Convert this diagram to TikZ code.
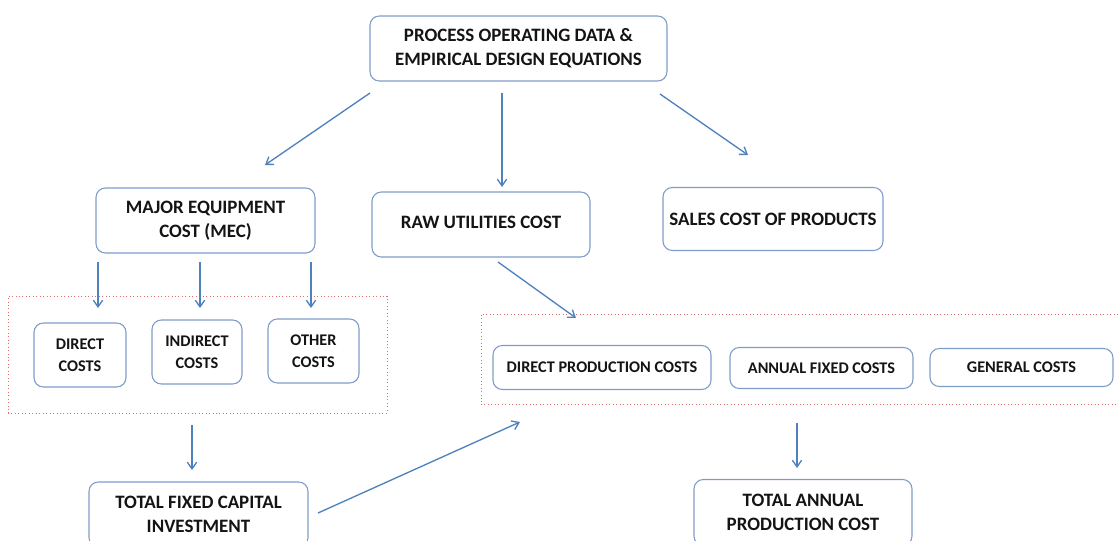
\documentclass[tikz,border=0pt]{standalone}
\usepackage{fontspec}
\setmainfont{Carlito}
\usetikzlibrary{arrows.meta}
\definecolor{boxline}{HTML}{7F9CC8}
\definecolor{arrowblue}{HTML}{4F81BD}
\definecolor{groupred}{HTML}{E06C6C}
\definecolor{labelink}{HTML}{141414}
\begin{document}
\begin{tikzpicture}[x=0.75pt,y=-0.75pt,
  card/.style 2 args={draw=boxline, line width=0.8pt, rounded corners=7pt, fill=white,
    align=center, font=\bfseries, text=labelink, inner sep=0pt,
    minimum width=#1*0.75pt, minimum height=#2*0.75pt},
  group/.style 2 args={draw=groupred, dotted, line width=0.6pt, inner sep=0pt,
    minimum width=#1*0.75pt, minimum height=#2*0.75pt},
  big/.style={font=\bfseries\fontsize{14.2}{18}\selectfont},
  small/.style={font=\bfseries\fontsize{12.2}{16.5}\selectfont},
  flow/.style={draw=arrowblue, line width=1pt, -{Straight Barb[length=5pt,width=7pt]}}
]
\useasboundingbox (0,0) rectangle (1118,540);

% dotted groupings
\node[group={379}{117}] (capgroup) at (197.5,354.5) {};
\node[group={641}{90}] (prodgroup) at (801.5,359) {};

% boxes
\node[card={297}{65}, big] (data) at (518.5,48.5)
  {PROCESS OPERATING DATA \&\\EMPIRICAL DESIGN EQUATIONS};
\node[card={219}{65}, big] (mec) at (205.5,220.5)
  {MAJOR EQUIPMENT\\COST (MEC)};
\node[card={218}{65}, big] (raw) at (481,224.5)
  {\raisebox{3.75pt}{RAW UTILITIES COST}};
\node[card={220}{63}, big] (sales) at (773,219)
  {SALES COST OF PRODUCTS};

\node[card={92}{64}, small] (direct) at (80,355)
  {DIRECT\\COSTS};
\node[card={90}{64}, small] (indirect) at (197,352)
  {INDIRECT\\COSTS};
\node[card={91}{64}, small] (other) at (313.5,351)
  {OTHER\\COSTS};

\node[card={218}{44}, small] (dpc) at (602,367.5)
  {DIRECT PRODUCTION COSTS};
\node[card={183}{41}, small] (afc) at (821.5,368)
  {ANNUAL FIXED COSTS};
\node[card={183}{38}, small] (gc) at (1021.5,367.5)
  {GENERAL COSTS};

\node[card={219}{65}, big] (tfci) at (198.5,514.5)
  {TOTAL FIXED CAPITAL\\INVESTMENT};
\node[card={218}{66}, big] (tapc) at (803,512.5)
  {TOTAL ANNUAL\\PRODUCTION COST};

% free arrow ends
\coordinate (d1) at (370,93);   \coordinate (m1) at (265,165);
\coordinate (d2) at (502,93);   \coordinate (r1) at (502,187);
\coordinate (d3) at (660,94);   \coordinate (s1) at (748,155);
\coordinate (ma) at (98,262);   \coordinate (ca) at (98,308);
\coordinate (mb) at (200,262);  \coordinate (cb) at (200,308);
\coordinate (mc) at (311,262);  \coordinate (cc) at (311,308);
\coordinate (g1) at (192,425);  \coordinate (t1) at (192,470);
\coordinate (t2) at (318,513);  \coordinate (p1) at (520,422);
\coordinate (r2) at (498,262);  \coordinate (p2) at (576,318);
\coordinate (p3) at (797,423);  \coordinate (a1) at (797,468);

\draw[flow] (d1) -- (m1);
\draw[flow] (d2) -- (r1);
\draw[flow] (d3) -- (s1);
\draw[flow] (ma) -- (ca);
\draw[flow] (mb) -- (cb);
\draw[flow] (mc) -- (cc);
\draw[flow] (g1) -- (t1);
\draw[flow] (t2) -- (p1);
\draw[flow] (r2) -- (p2);
\draw[flow] (p3) -- (a1);
\end{tikzpicture}
\end{document}
